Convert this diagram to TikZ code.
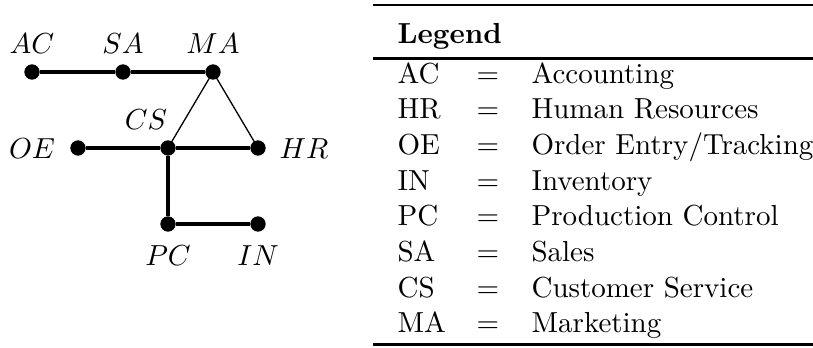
\documentclass[tikz,border=0pt]{standalone}
\begin{document}
\begin{tikzpicture}[x=0.345pt,y=-0.345pt,
  dot/.style={circle,fill=black,inner sep=0pt,minimum size=5.3pt},
  thickedge/.style={line width=1.1pt},
  thinedge/.style={line width=0.45pt},
  rulefat/.style={line width=1pt},
  lbl/.style={anchor=base,inner sep=0pt},
  cell/.style={anchor=base west,inner sep=0pt},
  eq/.style={anchor=base,inner sep=0pt}]
\useasboundingbox (0,0) rectangle (813,347);
% graph
\node[dot] (ac) at (32,72) {};
\node[dot] (sa) at (123,72) {};
\node[dot] (ma) at (213,72) {};
\node[dot] (oe) at (78,148) {};
\node[dot] (cs) at (168,148) {};
\node[dot] (hr) at (258,148) {};
\node[dot] (pc) at (168,224) {};
\node[dot] (in) at (258,224) {};
\draw[thickedge] (ac) -- (sa);
\draw[thickedge] (sa) -- (ma);
\draw[thickedge] (oe) -- (cs);
\draw[thickedge] (cs) -- (hr);
\draw[thickedge] (cs) -- (pc);
\draw[thickedge] (pc) -- (in);
\draw[thinedge] (ma.center) -- (cs.center);
\draw[thinedge] (ma.center) -- (hr.center);
\node[lbl] (lac) at (32,53) {$AC$};
\node[lbl] (lsa) at (123,53) {$SA$};
\node[lbl] (lma) at (213,53) {$MA$};
\node[lbl] (lcs) at (146,129) {$CS$};
\node[lbl] (loe) at (32,158) {$OE$};
\node[lbl] (lhr) at (304,158) {$HR$};
\node[lbl] (lpc) at (168,265) {$PC$};
\node[lbl] (lin) at (258,265) {$IN$};
% legend table
\coordinate (tl) at (373,5);
\coordinate (tr) at (813,5);
\coordinate (ml) at (373,58.5);
\coordinate (mr) at (813,58.5);
\coordinate (bl) at (373,344.5);
\coordinate (br) at (813,344.5);
\draw[rulefat] (tl) -- (tr);
\draw[rulefat] (ml) -- (mr);
\draw[rulefat] (bl) -- (br);
\node[cell] (hd) at (397,43) {\textbf{Legend}};
\foreach \ab/\desc [count=\i] in {AC/Accounting,HR/Human Resources,OE/Order Entry\slash Tracking,IN/Inventory,PC/Production Control,SA/Sales,CS/Customer Service,MA/Marketing}{
  \node[cell] (a\i) at (397,{83+35.7*(\i-1)}) {\ab};
  \node[eq] (e\i) at (488,{83+35.7*(\i-1)}) {$=$};
  \node[cell] (d\i) at (531,{83+35.7*(\i-1)}) {\desc};
}
\end{tikzpicture}
\end{document}
